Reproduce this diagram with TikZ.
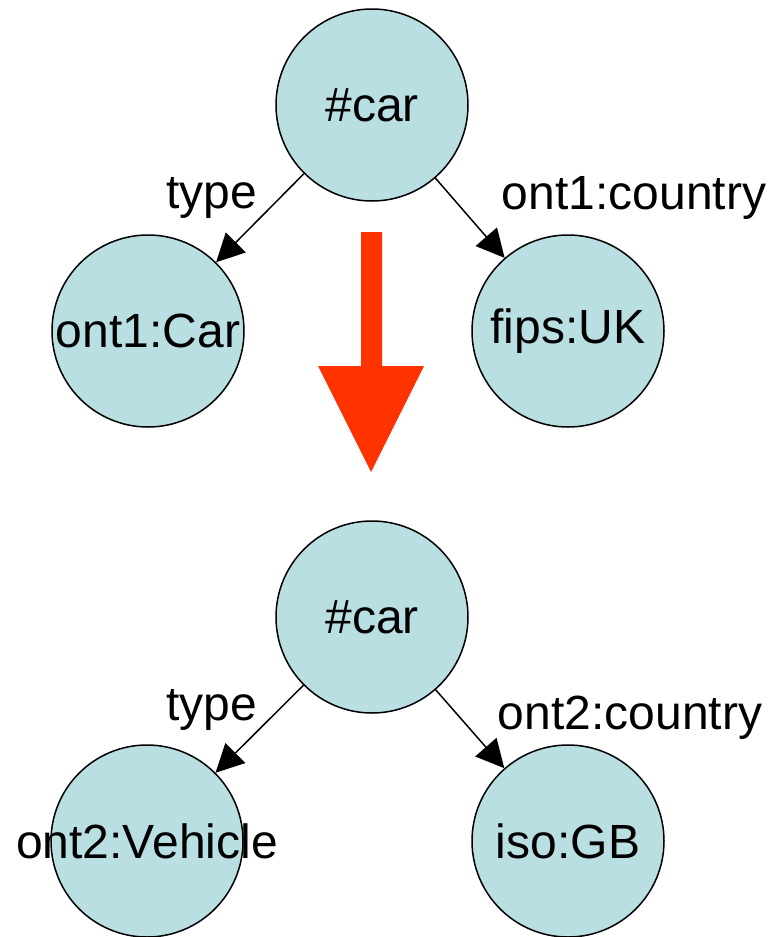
\documentclass[tikz,border=0pt]{standalone}
\usepackage{fontspec}
\setmainfont{Liberation Sans}
\usetikzlibrary{arrows.meta}
\definecolor{nodefill}{RGB}{185,223,227}
\definecolor{bigred}{RGB}{255,51,0}
\tikzset{
  vert/.style={circle, draw=black, line width=1.5pt, fill=nodefill,
    minimum size=192pt, inner sep=0pt},
  rel/.style={draw=black, line width=1.5pt,
    -{Triangle[length=28pt,width=28pt]}, shorten >=0pt},
  lbl/.style={inner sep=0pt},
}
\begin{document}
\begin{tikzpicture}[x=1pt, y=-1pt, font=\fontsize{48}{57}\selectfont]
  \useasboundingbox (0,0) rectangle (784,937);

  % first graph
  \node[vert] (carA) at (372,105) {\makebox[0pt]{\#car}};
  \node[vert] (clsA) at (148,331) {\makebox[0pt]{ont1:Car}};
  \node[vert] (ctyA) at (568,331) {\makebox[0pt]{fips:UK}};
  \draw[rel] (carA) -- (clsA);
  \draw[rel] (carA) -- (ctyA);
  \node[lbl] (typeA) at (212,198) {type};
  \node[lbl] (propA) at (634,198) {ont1:country};

  % mapping arrow
  \fill[bigred] (361,232) -- (382,232) -- (382,366) -- (424,366)
    -- (371,472) -- (318,366) -- (361,366) -- cycle;

  % second graph
  \node[vert] (carB) at (372,617) {\makebox[0pt]{\#car}};
  \node[vert] (clsB) at (147,841) {\makebox[0pt]{ont2:Vehicle}};
  \node[vert] (ctyB) at (568,841) {\makebox[0pt]{iso:GB}};
  \draw[rel] (carB) -- (clsB);
  \draw[rel] (carB) -- (ctyB);
  \node[lbl] (typeB) at (212,710) {type};
  \node[lbl] (propB) at (630,718) {ont2:country};
\end{tikzpicture}
\end{document}
